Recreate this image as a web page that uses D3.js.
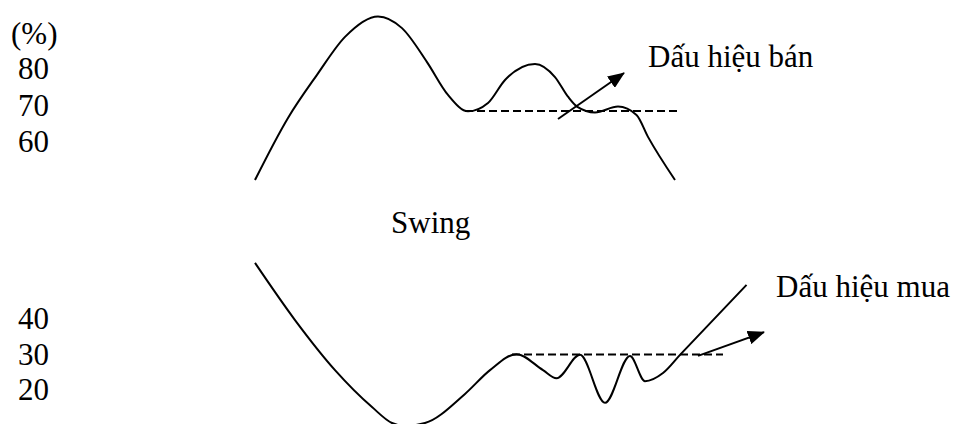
<!DOCTYPE html>
<html>
<head>
<meta charset="utf-8">
<script src="https://cdn.jsdelivr.net/npm/d3@7"></script>
<style>
  body { margin: 0; background: #fff; }
  text { font-family: "Liberation Serif", "Times New Roman", serif; font-size: 31px; fill: #000; }
</style>
</head>
<body>
<div id="chart"></div>
<script>
// dimensions of the picture
const width = 964;
const height = 424;

// Data: x in time units, y in percent
// upper swing (sell signal)
const sellX = [0, 6.6, 12.4, 18, 24.6, 29.4, 34.4, 38.6, 42.6, 46.6, 50, 56, 60, 62.6, 64.4, 68, 72.6, 76.3, 78.6, 84];
const sellY = [49.6, 66.6, 78.4, 88.8, 94.4, 91.2, 81.9, 72.9, 68.4, 70.7, 77.0, 81.4, 77.8, 72.4, 69.7, 68.1, 69.7, 67.4, 61.4, 49.6];
// lower swing (buy signal)
const buyX = [0, 8, 16, 23.4, 27.4, 30, 34, 42, 47, 52.3, 57.6, 60.3, 65, 70, 75, 78, 81.6, 85, 98.3];
const buyY = [55.8, 39.7, 25.6, 15.2, 10.7, 9.9, 10.7, 18.9, 25.6, 30.1, 25.6, 23.3, 29.9, 16.4, 29.6, 22.5, 24.8, 29.9, 49.6];

// tick labels
const topTicks = [80, 70, 60];
const bottomTicks = [40, 30, 20];

// support / resistance levels and their x-extent
const sellLevel = 68.5, sellLevelX = [42, 84.4];
const buyLevel = 30, buyLevelX = [51.4, 93.6];

// arrows [x0, y0, x1, y1]
const sellArrow = [60.6, 66.3, 74.6, 78.9];
const buyArrow = [88.6, 29.6, 102.6, 36.3];

const labels = { unit: "(%)", swing: "Swing", sell: "Dấu hiệu bán", buy: "Dấu hiệu mua" };

const svg = d3.select("#chart")
    .append("svg")
    .attr("width", width)
    .attr("height", height)
    .attr("viewBox", [0, 0, width, height]);

svg.append("defs").append("marker")
    .attr("id", "head")
    .attr("viewBox", "0 0 17 14")
    .attr("refX", 16)
    .attr("refY", 7)
    .attr("markerUnits", "userSpaceOnUse")
    .attr("markerWidth", 17)
    .attr("markerHeight", 14)
    .attr("orient", "auto")
    .append("path")
    .attr("d", "M0,0 L17,7 L0,14 Z")
    .attr("fill", "#000");

// scales
const x = d3.scaleLinear().domain([0, 100]).range([255, 755]);
const yTop = d3.scaleLinear().domain([60, 80]).range([142, 69]);
const yBot = d3.scaleLinear().domain([20, 40]).range([390, 319]);

function drawPanel(xs, ys, y, ticks, level, levelX, arrow) {
    const pts = xs.map((v, i) => [x(v), y(ys[i])]);
    svg.append("path")
        .attr("d", d3.line().curve(d3.curveMonotoneX)(pts))
        .attr("fill", "none")
        .attr("stroke", "#000")
        .attr("stroke-width", 2);

    svg.append("line")
        .attr("x1", x(levelX[0])).attr("x2", x(levelX[1]))
        .attr("y1", y(level)).attr("y2", y(level))
        .attr("stroke", "#000")
        .attr("stroke-width", 2)
        .attr("stroke-dasharray", "8,4");

    svg.append("line")
        .attr("x1", x(arrow[0])).attr("y1", y(arrow[1]))
        .attr("x2", x(arrow[2]) - 4).attr("y2", y(arrow[3]))
        .attr("stroke", "#000")
        .attr("stroke-width", 2)
        .attr("marker-end", "url(#head)");

    svg.selectAll(null)
        .data(ticks)
        .enter()
        .append("text")
        .attr("x", 18)
        .attr("y", d => y(d))
        .attr("dy", 10)
        .text(d => d);
}

drawPanel(sellX, sellY, yTop, topTicks, sellLevel, sellLevelX, sellArrow);
drawPanel(buyX, buyY, yBot, bottomTicks, buyLevel, buyLevelX, buyArrow);

svg.append("text").attr("x", 11).attr("y", 44).text(labels.unit);
svg.append("text").attr("x", 391).attr("y", 233).text(labels.swing);
svg.append("text").attr("x", 648).attr("y", 67).text(labels.sell);
svg.append("text").attr("x", 776).attr("y", 297).text(labels.buy);
</script>
</body>
</html>
